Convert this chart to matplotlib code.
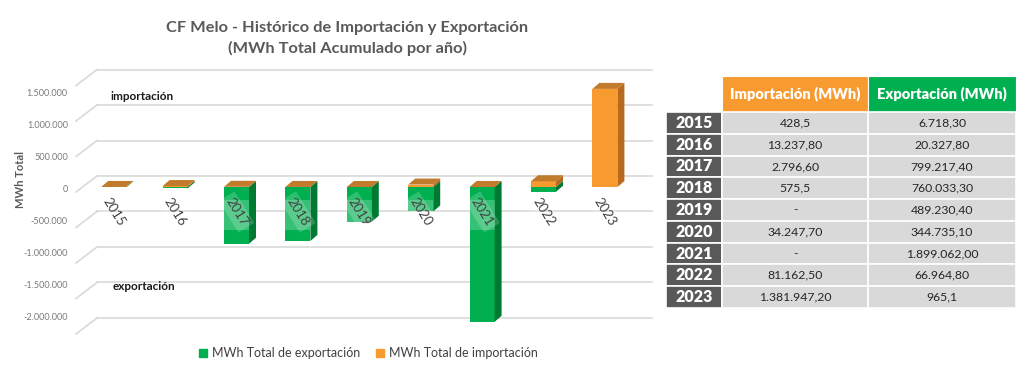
import matplotlib
matplotlib.use("Agg")
import matplotlib.pyplot as plt
import matplotlib.transforms as mtransforms
from matplotlib.patches import Polygon, Rectangle
from matplotlib.lines import Line2D

plt.rcParams['font.family'] = ['Lato', 'DejaVu Sans']

# ---------------- data ----------------
years = ['2015', '2016', '2017', '2018', '2019', '2020', '2021', '2022', '2023']
import_mwh = [428.5, 13237.8, 2796.6, 575.5, 0, 34247.7, 0, 81162.5, 1381947.2]
export_mwh = [6718.3, 20327.8, 799217.4, 760033.3, 489230.4, 344735.1, 1899062.0, 66964.8, 965.1]
import_txt = ['428,5', '13.237,80', '2.796,60', '575,5', '-', '34.247,70', '-', '81.162,50', '1.381.947,20']
export_txt = ['6.718,30', '20.327,80', '799.217,40', '760.033,30', '489.230,40', '344.735,10',
              '1.899.062,00', '66.964,80', '965,1']
grid_vals = [-2000000, -1500000, -1000000, -500000, 0, 500000, 1000000, 1500000]
title1 = 'CF Melo - Histórico de Importación y Exportación'
title2 = '(MWh Total Acumulado por año)'
ylabel = 'MWh Total'
leg_labels = ['MWh Total de exportación', 'MWh Total de importación']
headers = ['Importación (MWh)', 'Exportación (MWh)']

# ---------------- style ----------------
GREEN, GREEN_SIDE = '#00B050', '#007A33'
ORANGE, ORANGE_SIDE, ORANGE_TOP = '#F79A30', '#B8691F', '#C27A2C'
GRID = '#D9D9D9'

W, H = 1024, 378
fig = plt.figure(figsize=(W / 100, H / 100), dpi=100)


def rect(l, t, r, b):
    return [l / W, 1 - b / H, (r - l) / W, (b - t) / H]


# main axes (bar scale: 71 px per million, zero at y=187 px)
ax = fig.add_axes(rect(97, 60, 655, 335))
ax.set_xlim(-0.272, 8.816)
ax.set_ylim(-2.085e6, 1.789e6)
ax.axis('off')

px = fig.dpi_scale_trans
up11 = mtransforms.ScaledTranslation(0, 11 / 100, px)
blend = mtransforms.blended_transform_factory(ax.transAxes, ax.transData)
for v in grid_vals:
    ax.add_line(Line2D([0, 0.995], [v, v], transform=blend + up11, color=GRID, lw=1.2,
                       zorder=0, clip_on=False))

# perspective floor diagonals on the left wall
inv = fig.transFigure.inverted()
for v in grid_vals:
    p0 = blend.transform((-21 / 558, v)) + [0, -5]
    p1 = blend.transform((0, v)) + [0, 11]
    a = inv.transform(p0)
    b = inv.transform(p1)
    fig.add_artist(Line2D([a[0], b[0]], [a[1], b[1]], transform=fig.transFigure,
                          color=GRID, lw=1.2, zorder=0))

# y tick labels (front scale: 64 px per million, zero at 189 px)
ax_lab = fig.add_axes(rect(97, 60, 655, 335))
ax_lab.set_ylim(-(335 - 189) / 64 * 1e6, (189 - 60) / 64 * 1e6)
ax_lab.set_xticks([])
ax_lab.set_yticks(grid_vals)
ax_lab.set_yticklabels([f"{v:,}".replace(',', '.') for v in grid_vals])
ax_lab.tick_params(axis='y', length=0, pad=21, labelsize=6.6, labelcolor='#7a7a7a')
for s in ax_lab.spines.values():
    s.set_visible(False)
ax_lab.patch.set_visible(False)
ax_lab.set_zorder(-1)

# bars with pseudo-3D faces
x = list(range(len(years)))
w = 25 / 61.4
dx = 7 / 61.4
dy = 6 / 71 * 1e6
neg_export = [-e for e in export_mwh]
ax.bar(x, neg_export, width=w, color=GREEN, zorder=3, linewidth=0)
ax.bar(x, import_mwh, width=w, color=ORANGE, zorder=3, linewidth=0)
for i in x:
    r = i + w / 2
    l = i - w / 2
    e = neg_export[i]
    im = import_mwh[i]
    ax.add_patch(Polygon([(r, 0), (r + dx, dy), (r + dx, e + dy), (r, e)],
                         closed=True, facecolor=GREEN_SIDE, edgecolor='none', zorder=3))
    ax.add_patch(Polygon([(r, 0), (r + dx, dy), (r + dx, im + dy), (r, im)],
                         closed=True, facecolor=ORANGE_SIDE, edgecolor='none', zorder=3))
    ax.add_patch(Polygon([(l, im), (l + dx, im + dy), (r + dx, im + dy), (r, im)],
                         closed=True, facecolor=ORANGE_TOP, edgecolor='none', zorder=3))
    # translucent label band over the front face
    lo = max(e, -606000)
    if lo < -183000:
        ax.add_patch(Rectangle((l, lo), w, -183000 - lo, facecolor='white', alpha=0.22,
                               edgecolor='none', zorder=4))
    ax.text(i, -352000, years[i], rotation=-58, ha='center', va='center', fontsize=9.5,
            color='#404040', zorder=5,
            bbox=dict(boxstyle='square,pad=0.25', facecolor='white', alpha=0.18, edgecolor='none'))

# annotations
fig.text(110 / W, 1 - 97 / H, 'importación', fontsize=8.5, fontweight='bold',
         color='#1a1a1a', ha='left', va='center')
fig.text(113 / W, 1 - 286 / H, 'exportación', fontsize=8.5, fontweight='bold',
         color='#1a1a1a', ha='left', va='center')
fig.text(21 / W, 1 - 180 / H, ylabel, rotation=90, fontsize=8, fontweight='bold',
         color='#595959', ha='center', va='center')

# title
fig.text(347 / W, 1 - 28 / H, title1, fontsize=11.8, fontweight='bold', color='#595959',
         ha='center', va='center')
fig.text(347 / W, 1 - 48 / H, title2, fontsize=11.8, fontweight='bold', color='#595959',
         ha='center', va='center')

# legend
handles = [Line2D([], [], marker='s', color=GREEN, linestyle='None', markersize=6),
           Line2D([], [], marker='s', color=ORANGE, linestyle='None', markersize=6)]
fig.legend(handles, leg_labels, loc='center', bbox_to_anchor=(368 / W, 1 - 353 / H), ncol=2,
           frameon=False, fontsize=9, handlelength=0.8, handletextpad=0.3, columnspacing=1.2,
           labelcolor='#404040')

# ---------------- table ----------------
tab = fig.add_axes(rect(666, 76, 1016, 308))
tab.set_xlim(0, 350)
tab.set_ylim(232, 0)
tab.axis('off')
col_edges = [0, 56, 202, 350]
head_h = 36
row_h = (232 - head_h) / len(years)
for j, (hdr, col) in enumerate(zip(headers, [ORANGE, GREEN])):
    x0, x1 = col_edges[j + 1], col_edges[j + 2]
    tab.add_patch(Rectangle((x0, 0), x1 - x0, head_h, facecolor=col, edgecolor='white', lw=0.8))
    tab.text((x0 + x1) / 2, head_h / 2, hdr, color='white', fontsize=10.5, fontweight='heavy',
             ha='center', va='center')
for i, yr in enumerate(years):
    y0 = head_h + i * row_h
    tab.add_patch(Rectangle((col_edges[0], y0), col_edges[1] - col_edges[0], row_h,
                            facecolor='#595959', edgecolor='white', lw=1.2))
    tab.text((col_edges[0] + col_edges[1]) / 2, y0 + row_h / 2, yr, color='white', fontsize=11.5,
             fontweight='heavy', ha='center', va='center')
    for j, txt in enumerate([import_txt[i], export_txt[i]]):
        x0, x1 = col_edges[j + 1], col_edges[j + 2]
        tab.add_patch(Rectangle((x0, y0), x1 - x0, row_h, facecolor='#D9D9D9',
                                edgecolor='white', lw=1.2))
        tab.text((x0 + x1) / 2, y0 + row_h / 2, txt, color='#262626', fontsize=8.8,
                 ha='center', va='center')

fig.savefig('out.png', dpi=100)
